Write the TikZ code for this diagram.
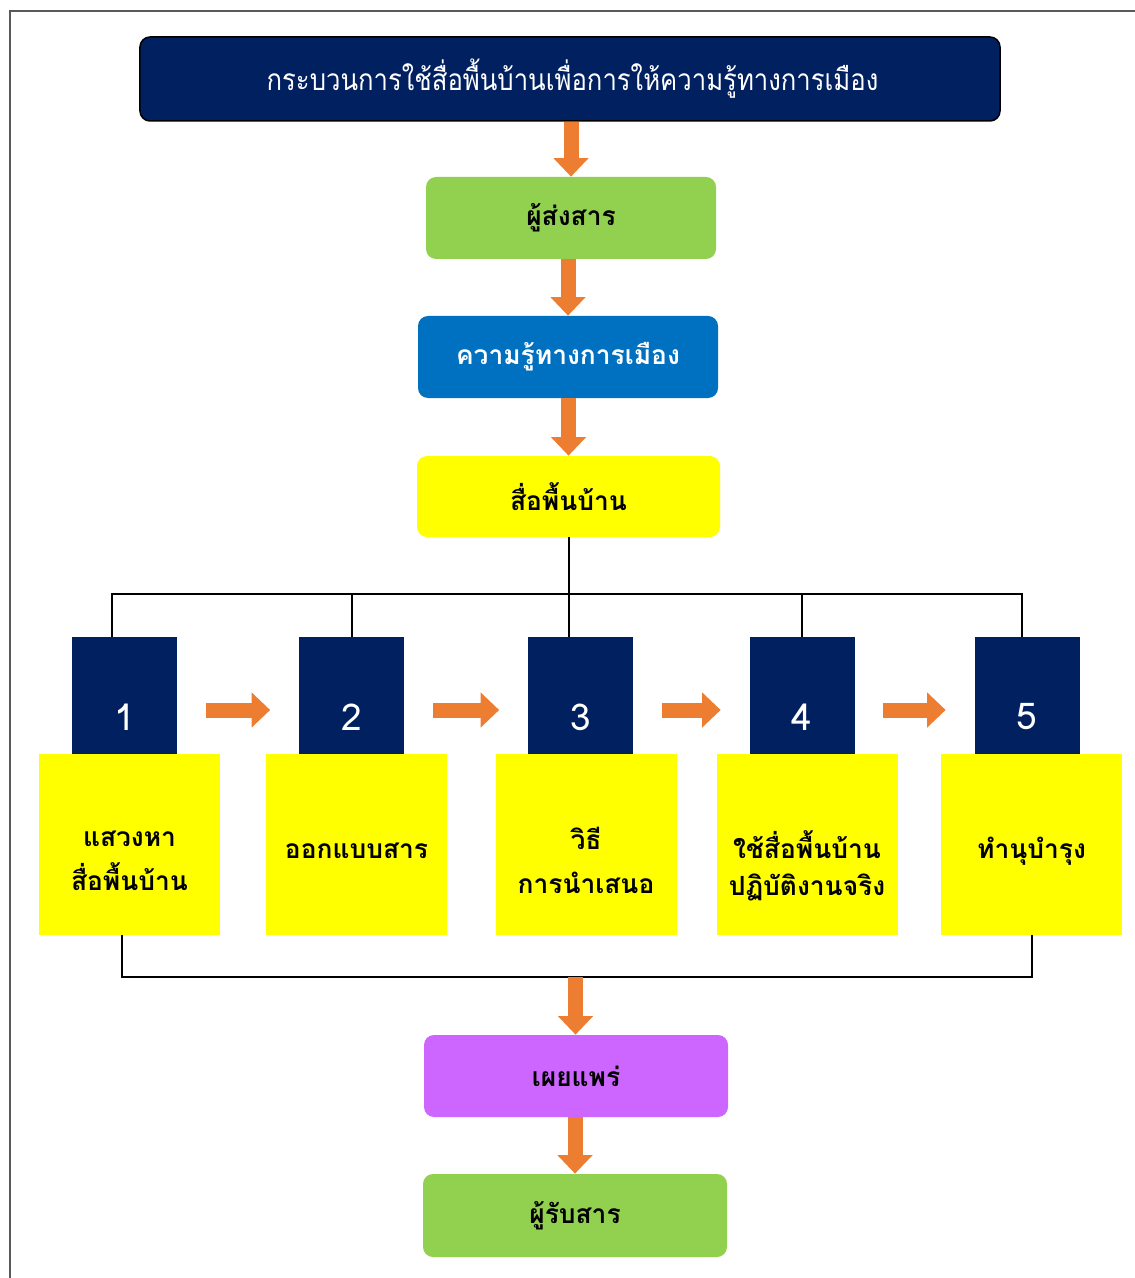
\documentclass[tikz,border=0pt]{standalone}
\usepackage{fontspec}
\newfontfamily\thaifont[Script=Thai]{Loma}
\newfontfamily\thaicond[Script=Thai,FakeStretch=0.86]{Loma}
\usetikzlibrary{arrows.meta}
\definecolor{navy}{HTML}{002060}
\definecolor{leaf}{HTML}{92D050}
\definecolor{sky}{HTML}{0070C0}
\definecolor{lemon}{HTML}{FFFF00}
\definecolor{mauve}{HTML}{CC66FF}
\definecolor{flow}{HTML}{ED7D31}

\begin{document}
\begin{tikzpicture}[x=0.2mm,y=-0.2mm,
  tbox/.style={rounded corners=2mm,minimum width=58mm,minimum height=16.4mm,inner sep=0pt,font=\thaifont\bfseries\fontsize{15}{18}\selectfont},
  numbox/.style={fill=navy,minimum width=21mm,minimum height=23.4mm,inner sep=0pt},
  numtxt/.style={text=white,inner sep=0pt,font=\thaifont\fontsize{21}{21}\selectfont},
  stepbox/.style={fill=lemon,minimum width=36.2mm,minimum height=36.2mm,inner sep=0pt},
  steptxt/.style={inner sep=0pt,align=center,font=\thaifont\bfseries\fontsize{15}{25}\selectfont},
  fat/.style={draw=flow,line width=3mm,-{Triangle[width=6.8mm,length=3.7mm]}},
  fatr/.style={fat,shorten <=5.7mm,shorten >=5.7mm},
  link/.style={draw=black,line width=0.4mm}]
\useasboundingbox (0,0) rectangle (1135,1278);
\draw[line width=0.5mm,black!65] (10,1278) -- (10,11) -- (1135,11);

% top column
\node[tbox,draw=black,line width=0.3mm,fill=navy,text=white,minimum width=172mm,minimum height=16.8mm,font=\thaicond\fontsize{17}{18}\selectfont] (title) at (570,79) {\hspace*{1mm}กระบวนการใช้สื่อพื้นบ้านเพื่อการให้ความรู้ทางการเมือง};
\node[tbox,fill=leaf] (sender) at (571,218) {ผู้ส่งสาร};
\node[tbox,fill=sky,text=white,minimum width=60mm] (know) at (568,357) {ความรู้ทางการเมือง};
\node[tbox,fill=lemon,minimum width=60.6mm,minimum height=16.2mm] (folk) at (568.5,496.5) {สื่อพื้นบ้าน};

\draw[fat] (title.south -| sender.north) -- (sender.north);
\draw[fat] (sender.south -| know.north) -- (know.north);
\draw[fat] (know.south -| folk.north) -- (folk.north);

% steps
\node[stepbox] (s1) at (129.5,844.5) {};
\node[stepbox] (s2) at (356.5,844.5) {};
\node[stepbox] (s3) at (586,844.5) {};
\node[stepbox] (s4) at (807,844.5) {};
\node[stepbox] (s5) at (1031.5,844.5) {};
\node[steptxt] (t1) at ([yshift=-3.2mm]s1.center) {แสวงหา\\สื่อพื้นบ้าน};
\node[steptxt] (t2) at ([yshift=-1.3mm]s2.center) {ออกแบบสาร};
\node[steptxt] (t3) at ([yshift=-3.2mm]s3.center) {วิธี\\การนำเสนอ};
\node[steptxt,font=\thaifont\bfseries\fontsize{15}{21}\selectfont] (t4) at ([yshift=-4.3mm]s4.center) {ใช้สื่อพื้นบ้าน\\ปฏิบัติงานจริง};
\node[steptxt] (t5) at ([yshift=-1.3mm]s5.center) {ทำนุบำรุง};

\node[numbox] (n1) at (124.5,695.5) {};
\node[numbox] (n2) at (351.5,695.5) {};
\node[numbox] (n3) at (580.5,695.5) {};
\node[numbox] (n4) at (802,695.5) {};
\node[numbox] (n5) at (1027,695.5) {};
\node[numtxt] (d1) at ([yshift=-4.3mm]n1.center) {1};
\node[numtxt] (d2) at ([yshift=-4.3mm]n2.center) {2};
\node[numtxt] (d3) at ([yshift=-4.3mm]n3.center) {3};
\node[numtxt] (d4) at ([yshift=-4.3mm]n4.center) {4};
\node[numtxt] (d5) at ([yshift=-4.3mm]n5.center) {5};

\draw[fatr] ([yshift=-2.9mm]n1.east) -- ([yshift=-2.9mm]n2.west);
\draw[fatr] ([yshift=-2.9mm]n2.east) -- ([yshift=-2.9mm]n3.west);
\draw[fatr] ([yshift=-2.9mm]n3.east) -- ([yshift=-2.9mm]n4.west);
\draw[fatr] ([yshift=-2.9mm]n4.east) -- ([yshift=-2.9mm]n5.west);

% bus lines
\coordinate (bus) at (568,594);
\draw[link] (folk.south) -- (folk.south |- n3.north);
\draw[link] ([xshift=-2.5mm]n1.north) |- (bus) -| ([xshift=-1mm]n5.north);
\draw[link] (n2.north) -- (n2.north |- bus);
\draw[link] (n4.north) -- (n4.north |- bus);

% bottom column
\node[tbox,fill=mauve,minimum width=60.8mm] (spread) at (576,1076) {เผยแพร่};
\node[tbox,fill=leaf,minimum width=60.8mm,minimum height=16.6mm] (recv) at (575,1215.5) {ผู้รับสาร};

\coordinate (bot) at (575.5,977);
\draw[link] ([xshift=-1.5mm]s1.south) |- (bot) -| (s5.south);
\draw[fat] (bot) -- (bot |- spread.north);
\draw[fat] (spread.south -| recv.north) -- (recv.north);
\end{tikzpicture}
\end{document}
